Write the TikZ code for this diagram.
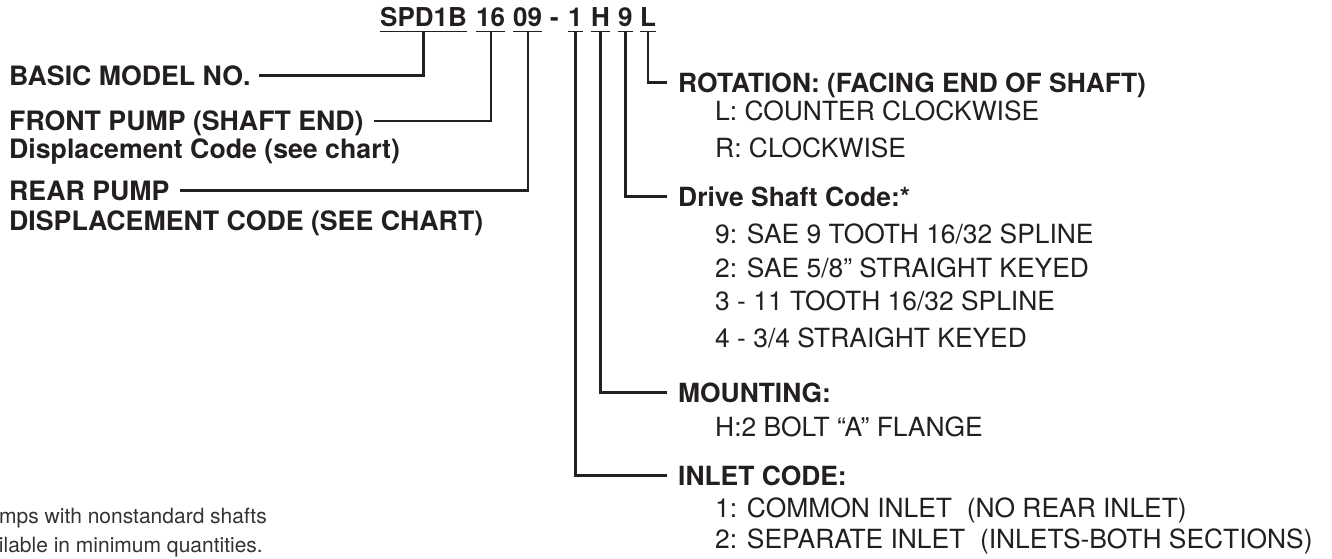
\documentclass[tikz,border=0pt]{standalone}
\usepackage{fontspec}
\setmainfont{TeX Gyre Heros}
\definecolor{ink}{HTML}{231F20}
\definecolor{note}{HTML}{333333}
\tikzset{
  codetxt/.style={anchor=base west, inner sep=0pt, font=\fontsize{26}{30}\selectfont\bfseries, text=ink},
  lefttxt/.style={anchor=base west, inner sep=0pt, font=\fontsize{26.7}{30}\selectfont\bfseries, text=ink},
  headtxt/.style={anchor=base west, inner sep=0pt, font=\fontsize{26.4}{30}\selectfont\bfseries, text=ink},
  itemtxt/.style={anchor=base west, inner sep=0pt, font=\fontsize{26.4}{30}\selectfont, text=ink},
  notetxt/.style={anchor=base east, inner sep=0pt, font=\fontsize{21}{25}\selectfont, text=note},
  leader/.style={draw=ink, line width=2.3pt},
  uline/.style={draw=ink, line width=1.6pt}
}
\begin{document}
\begin{tikzpicture}[x=1pt,y=-1pt]
\useasboundingbox (0,0) rectangle (1332,558);
% code string
\node[codetxt] (spd) at (380,26) {SPD1B};
\node[codetxt] (cf) at (476,26) {16};
\node[codetxt] (cr) at (513,26) {09};
\node[codetxt] (dash) at (550,26) {-};
\node[codetxt] (ci) at (568,26) {1};
\node[codetxt] (cm) at (591,26) {H};
\node[codetxt] (cd) at (618,26) {9};
\node[codetxt] (cl) at (640,26) {L};
\foreach \n in {spd,cf,cr,ci,cm,cd,cl}{
  \draw[uline] ([yshift=-5.5pt]\n.base west) -- ([yshift=-5.5pt]\n.base east);
}
% left labels
\node[lefttxt] (basic) at (9,85) {BASIC MODEL NO.};
\node[lefttxt] (front) at (9,130.5) {FRONT PUMP (SHAFT END)};
\node[lefttxt] (front2) at (9,158.5) {Displacement Code (see chart)};
\node[lefttxt] (rear) at (9,200) {REAR PUMP};
\node[lefttxt] (rear2) at (9,230) {DISPLACEMENT CODE (SEE CHART)};
% right labels
\node[headtxt] (rot) at (678,92) {ROTATION: (FACING END OF SHAFT)};
\node[itemtxt] (rot1) at (715,120) {L: COUNTER CLOCKWISE};
\node[itemtxt] (rot2) at (715,157) {R: CLOCKWISE};
\node[headtxt] (drv) at (678,206) {Drive Shaft Code:*};
\node[itemtxt] (drv1) at (715,243) {9: SAE 9 TOOTH 16/32 SPLINE};
\node[itemtxt] (drv2) at (715,277) {2: SAE 5/8” STRAIGHT KEYED};
\node[itemtxt] (drv3) at (715,310) {3 - 11 TOOTH 16/32 SPLINE};
\node[itemtxt] (drv4) at (715,347) {4 - 3/4 STRAIGHT KEYED};
\node[headtxt] (mnt) at (678,402) {MOUNTING:};
\node[itemtxt] (mnt1) at (715,436) {H:2 BOLT “A” FLANGE};
\node[headtxt] (inl) at (678,485) {INLET CODE:};
\node[itemtxt] (inl1) at (715,517) {1: COMMON INLET\ \ (NO REAR INLET)};
\node[itemtxt] (inl2) at (715,548) {2: SEPARATE INLET\ \ (INLETS-BOTH SECTIONS)};
% footnote (cut at the left edge)
\node[notetxt] (fn1) at (267,523) {mps with nonstandard shafts};
\node[notetxt] (fn2) at (263,552) {ilable in minimum quantities.};
% leaders
\draw[leader] ([yshift=-5.5pt]spd.base) |- ([xshift=8pt,yshift=9.5pt]basic.base east);
\draw[leader] ([yshift=-5.5pt]cf.base) |- ([xshift=10pt,yshift=9.5pt]front.base east);
\draw[leader] ([yshift=-5.5pt]cr.base) |- ([xshift=10pt,yshift=9.5pt]rear.base east);
\draw[leader] ([yshift=-5.5pt]cl.base) |- ([xshift=-11pt,yshift=9.5pt]rot.base west);
\draw[leader] ([yshift=-5.5pt]cd.base) |- ([xshift=-11pt,yshift=9.5pt]drv.base west);
\draw[leader] ([yshift=-5.5pt]cm.base) |- ([xshift=-11pt,yshift=9.5pt]mnt.base west);
\draw[leader] ([yshift=-5.5pt]ci.base) |- ([xshift=-11pt,yshift=9.5pt]inl.base west);
\end{tikzpicture}
\end{document}
